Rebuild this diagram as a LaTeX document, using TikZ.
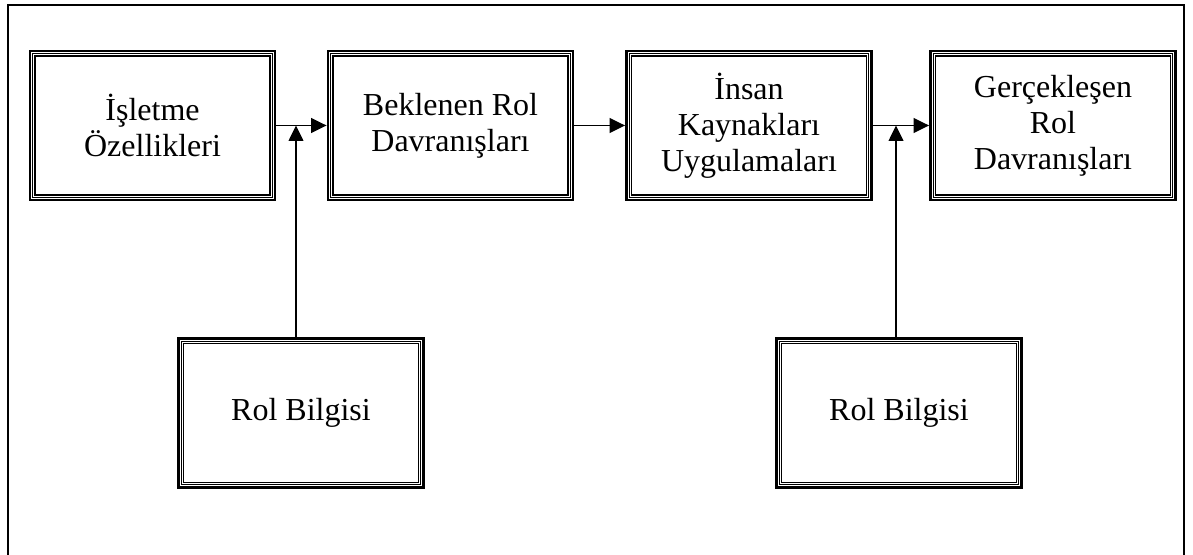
\documentclass[tikz,border=0pt]{standalone}
\usepackage{fontspec}
\setmainfont{Liberation Serif}
\usetikzlibrary{arrows.meta}
\begin{document}
\begin{tikzpicture}[x=0.75pt,y=-0.75pt,
  tribox/.style={draw, line width=1.9pt, minimum width=184pt, minimum height=112pt,
    inner sep=0pt, align=center, font=\fontsize{24pt}{27pt}\selectfont,
    path picture={
      \draw[line width=0.75pt]
        ([shift={(2.1pt,2.1pt)}]path picture bounding box.south west) rectangle
        ([shift={(-2.1pt,-2.1pt)}]path picture bounding box.north east);
      \draw[line width=1.1pt]
        ([shift={(3.8pt,3.8pt)}]path picture bounding box.south west) rectangle
        ([shift={(-3.8pt,-3.8pt)}]path picture bounding box.north east);
    }},
  flow/.style={line width=1.1pt, -{Triangle[length=11.5pt,width=11pt]}},
  frame/.style={line width=1.5pt}
]
\useasboundingbox (0,0) rectangle (1193,555);

% outer frame, open at the bottom
\begin{scope}
  \clip (0,0) rectangle (1193,555);
  \draw[frame] (8,560) -- (8,5) -- (1184,5) -- (1184,560);
\end{scope}

% main chain
\node[tribox] (b1) at (152.5,125.5) {İşletme\\Özellikleri};
\node[tribox] (b2) at (450.5,125.5) {Beklenen Rol\\Davranışları};
\node[tribox] (b3) at (749,125.5) {İnsan\\Kaynakları\\Uygulamaları};
\node[tribox] (b4) at (1053,125.5) {Gerçekleşen\\Rol\\Davranışları};

% role information inputs
\node[tribox] (r1) at (301,413) {Rol Bilgisi};
\node[tribox] (r2) at (899,413) {Rol Bilgisi};

\draw[flow] (b1.east) -- (b2.west);
\draw[flow] (b2.east) -- (b3.west);
\draw[flow] (b3.east) -- (b4.west);

% junction points on the horizontal links
\coordinate (j1) at (296,125.5);
\coordinate (j2) at (896,125.5);
\draw[flow] (j1 |- r1.north) -- (j1);
\draw[flow] (j2 |- r2.north) -- (j2);
\end{tikzpicture}
\end{document}
